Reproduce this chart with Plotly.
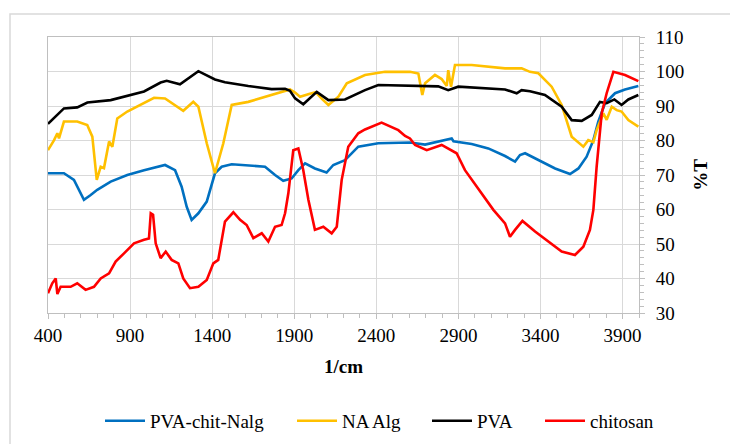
import plotly.graph_objects as go

# FTIR transmittance spectra (%T vs wavenumber, 1/cm)
blend_x = [400, 497, 558, 599, 619, 660, 700, 782, 883, 985, 1086, 1113, 1174, 1214, 1245, 1275,
           1316, 1367, 1417, 1458, 1519, 1620, 1722, 1783, 1833, 1884, 1925, 1966, 2026, 2097,
           2138, 2209, 2250, 2290, 2412, 2605, 2697, 2777, 2859, 2870, 2981, 3082, 3184, 3245,
           3275, 3306, 3387, 3489, 3580, 3631, 3681, 3722, 3752, 3793, 3854, 3915, 3996]
blend_y = [70.5, 70.5, 68.6, 64.7, 62.8, 64.2, 65.7, 68.1, 70.0, 71.4, 72.6, 72.9, 71.4, 66.6, 60.8, 57.0,
           58.9, 62.3, 70.5, 72.4, 73.1, 72.7, 72.4, 70.0, 68.3, 69.0, 71.4, 73.4, 71.9, 70.7,
           72.9, 74.3, 76.3, 78.2, 79.2, 79.4, 78.8, 79.7, 80.6, 79.8, 79.0, 77.7, 75.5, 73.9,
           75.8, 76.3, 74.3, 71.9, 70.3, 71.9, 75.3, 80.1, 85.5, 90.8, 93.7, 94.8, 95.8]

alg_x = [400, 437, 457, 467, 497, 578, 639, 670, 697, 721, 741, 772, 792, 822, 883, 985, 1046, 1113,
         1224, 1285, 1316, 1367, 1417, 1468, 1519, 1620, 1722, 1803, 1874, 1905, 1935, 1990, 2030,
         2070, 2108, 2169, 2220, 2331, 2453, 2605, 2656, 2680, 2697, 2757, 2798, 2829, 2838, 2855,
         2879, 2981, 3184, 3285, 3336, 3387, 3468, 3529, 3590, 3661, 3691, 3722, 3742, 3783, 3803,
         3834, 3864, 3894, 3935, 3996]
alg_y = [77.2, 80.1, 82.1, 80.6, 85.5, 85.5, 84.5, 81.1, 68.6, 72.4, 72.0, 79.7, 78.2, 86.4, 88.4, 90.8, 92.4, 92.2,
         88.6, 91.2, 89.8, 79.2, 70.5, 79.2, 90.3, 91.2, 92.7, 93.9, 94.8, 93.9, 92.7, 93.5, 94.0,
         92.0, 90.3, 92.7, 96.6, 99.0, 99.9, 99.9, 99.4, 93.2, 96.6, 99.0, 97.8, 95.8, 100.4, 95.6,
         101.9, 101.9, 100.9, 100.9, 99.9, 99.5, 95.6, 90.3, 81.1, 78.2, 80.1, 79.5, 83.0, 87.9, 86.0,
         89.8, 88.8, 88.4, 85.9, 84.0]

pva_x = [400, 497, 578, 640, 782, 904, 985, 1086, 1123, 1204, 1316, 1417, 1478, 1620, 1762, 1844,
         1874, 1905, 1955, 2037, 2108, 2209, 2331, 2412, 2605, 2777, 2838, 2899, 3184, 3255, 3285,
         3336, 3427, 3529, 3590, 3651, 3712, 3762, 3803, 3850, 3894, 3935, 3996]
pva_y = [84.8, 89.3, 89.6, 91.0, 91.7, 93.2, 94.2, 96.8, 97.3, 96.3, 100.1, 97.7, 96.9, 95.8, 94.9, 95.0,
         94.4, 92.2, 90.5, 94.1, 91.7, 91.9, 94.6, 96.1, 96.0, 95.7, 94.6, 95.6, 94.8, 93.7, 94.6,
         94.3, 93.2, 89.8, 85.9, 85.7, 87.4, 91.2, 90.8, 91.9, 90.3, 91.9, 93.2]

chit_x = [400, 426, 447, 457, 477, 538, 578, 629, 680, 721, 772, 812, 863, 924, 985, 1015, 1026, 1040,
          1056, 1086, 1117, 1153, 1194, 1224, 1265, 1316, 1367, 1407, 1437, 1478, 1529, 1570, 1610,
          1651, 1702, 1742, 1783, 1823, 1844, 1864, 1894, 1925, 1955, 1986, 2026, 2077, 2128, 2159,
          2189, 2229, 2290, 2331, 2432, 2534, 2575, 2605, 2636, 2707, 2798, 2889, 2940, 3011, 3113,
          3184, 3214, 3245, 3290, 3367, 3448, 3529, 3610, 3661, 3701, 3722, 3742, 3773, 3803, 3844,
          3915, 3976, 3996]
chit_y = [35.7, 38.6, 40.0, 35.5, 37.6, 37.6, 38.6, 36.7, 37.6, 40.0, 41.5, 44.9, 47.3, 50.2, 51.2, 51.6, 58.9, 58.5,
          50.2, 45.9, 47.8, 45.4, 44.4, 40.0, 37.2, 37.6, 39.6, 44.4, 45.4, 56.5, 59.2, 57.0, 55.5,
          51.7, 53.1, 50.7, 55.0, 55.5, 58.9, 64.7, 77.2, 77.7, 71.4, 62.8, 54.1, 55.0, 53.1, 55.0,
          68.6, 78.2, 82.1, 83.2, 85.2, 83.0, 81.3, 80.6, 78.7, 77.2, 78.7, 76.3, 71.4, 66.6, 59.9,
          56.0, 52.1, 54.1, 56.7, 53.6, 50.7, 47.8, 46.8, 49.2, 54.1, 59.9, 72.4, 87.9, 93.7, 99.9,
          99.0, 97.5, 97.2]

x_ticks = [400, 900, 1400, 1900, 2400, 2900, 3400, 3900]
y_ticks = [30, 40, 50, 60, 70, 80, 90, 100, 110]

series = [
    ("PVA-chit-Nalg", blend_x, blend_y, "#0070C0"),
    ("NA Alg", alg_x, alg_y, "#FFC000"),
    ("PVA", pva_x, pva_y, "#000000"),
    ("chitosan", chit_x, chit_y, "#FF0000"),
]

font_family = "'Liberation Serif', 'Times New Roman', 'DejaVu Serif', serif"
fsize = 19
grid = "#D9D9D9"
axis_col = "#BFBFBF"

# one legend box per series so the bottom key can be spaced freely
legend_ids = ["legend", "legend2", "legend3", "legend4"]
legend_left_px = [100, 292, 427, 540]
plot_left, plot_w = 48, 591

fig = go.Figure()
for (name, xs, ys, color), lg in zip(series, legend_ids):
    fig.add_trace(go.Scatter(x=xs, y=ys, mode="lines", name=name, legend=lg,
                             line=dict(color=color, width=2.6)))

legend_style = {}
for lg, px in zip(legend_ids, legend_left_px):
    legend_style[lg] = dict(orientation="h", x=(px - plot_left) / plot_w, xanchor="left",
                            y=-0.391, yanchor="middle", itemwidth=40,
                            font=dict(family=font_family, size=fsize),
                            bgcolor="rgba(0,0,0,0)")

fig.update_layout(
    width=730, height=444,
    margin=dict(l=48, r=91, t=37, b=131, autoexpand=False),
    paper_bgcolor="white", plot_bgcolor="white",
    font=dict(family=font_family, size=fsize, color="#000000"),
    showlegend=True,
    xaxis=dict(range=[400, 4000], tickvals=x_ticks, ticktext=[str(v) for v in x_ticks],
               showgrid=True, gridcolor=grid, gridwidth=1,
               showline=True, linecolor=axis_col, linewidth=1, mirror=True,
               ticks="outside", ticklen=5, tickcolor=axis_col,
               minor=dict(dtick=100, tick0=400, ticks="outside", ticklen=4, tickcolor=axis_col, showgrid=False),
               zeroline=False, ticklabelstandoff=0,
               title=dict(text="<b>1/cm</b>", font=dict(family=font_family, size=fsize), standoff=14),
               tickfont=dict(family=font_family, size=fsize)),
    yaxis=dict(range=[30, 110], tickvals=y_ticks, side="right",
               showgrid=True, gridcolor=grid, gridwidth=1,
               showline=True, linecolor=axis_col, linewidth=1, mirror=True,
               ticks="outside", ticklen=5, tickcolor=axis_col,
               minor=dict(dtick=2, tick0=30, ticks="outside", ticklen=4, tickcolor=axis_col, showgrid=False),
               zeroline=False, ticklabelstandoff=7,
               title=dict(text="<b>%T</b>", font=dict(family=font_family, size=fsize), standoff=10),
               tickfont=dict(family=font_family, size=fsize)),
    shapes=[dict(type="rect", xref="paper", yref="paper",
                 x0=-0.0643, x1=1.3, y0=-0.6, y1=1.0833,
                 line=dict(color="#D9D9D9", width=1.5), fillcolor="rgba(0,0,0,0)", layer="below")],
    **legend_style,
)

fig.write_html("out.html")
